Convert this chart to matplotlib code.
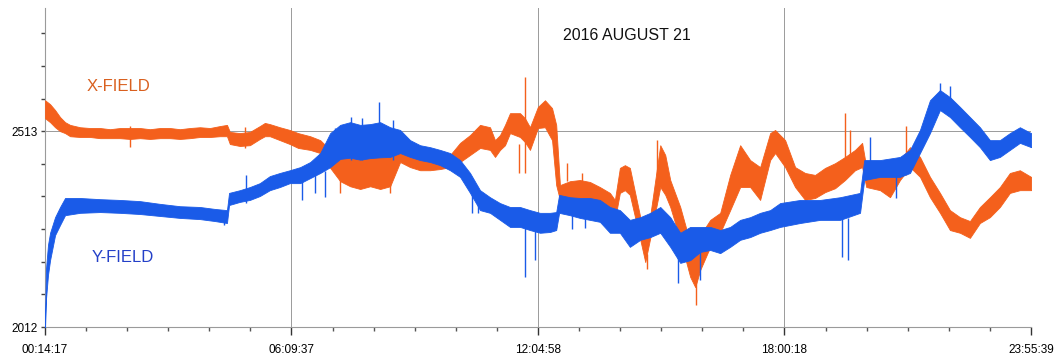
import matplotlib.pyplot as plt

# Magnetometer record, 2016 August 21 (time in hours of the day)
tick_hours = [0.2381, 6.1603, 12.0828, 18.0050, 23.9275]
tick_labels = ['00:14:17', '06:09:37', '12:04:58', '18:00:18', '23:55:39']

# X-FIELD: time, lower and upper edge of the noisy band
xf_t = [0.24, 0.36, 0.48, 0.60, 0.72, 0.84, 1.08, 1.32, 1.56, 1.80, 2.04, 2.28, 2.52, 2.76,
        3.00, 3.24, 3.48, 3.72, 3.96, 4.20, 4.44, 4.61, 4.68, 4.92, 5.16, 5.40, 5.52, 5.64,
        5.88, 6.12, 6.32, 6.61, 6.85, 7.09, 7.33, 7.57, 7.81, 8.05, 8.29, 8.53, 8.77, 9.01,
        9.25, 9.49, 9.73, 9.97, 10.21, 10.45, 10.69, 10.93, 11.05, 11.17, 11.29, 11.41, 11.65,
        11.77, 11.89, 12.08, 12.25, 12.42, 12.52, 12.61, 12.85, 13.09, 13.33, 13.57, 13.81,
        13.93, 14.05, 14.17, 14.29, 14.54, 14.66, 14.78, 15.02, 15.14, 15.26, 15.50, 15.74,
        15.86, 15.98, 16.22, 16.46, 16.70, 16.94, 17.18, 17.42, 17.66, 17.78, 18.02, 18.26,
        18.50, 18.74, 18.98, 19.22, 19.46, 19.70, 19.87, 19.97, 20.30, 20.54, 20.78, 21.02,
        21.26, 21.50, 21.74, 21.98, 22.22, 22.46, 22.70, 22.94, 23.18, 23.42, 23.66, 23.93]
xf_lo = [2546, 2536, 2523, 2513, 2508, 2500, 2498, 2498, 2495, 2495, 2495, 2493, 2495, 2493,
         2495, 2495, 2493, 2495, 2498, 2498, 2500, 2500, 2480, 2475, 2477, 2493, 2500, 2500,
         2490, 2480, 2470, 2465, 2457, 2419, 2385, 2372, 2365, 2372, 2365, 2372, 2434, 2421,
         2413, 2413, 2416, 2421, 2434, 2452, 2470, 2465, 2447, 2465, 2477, 2508, 2498,
         2485, 2465, 2521, 2523, 2490, 2375, 2337, 2339, 2342, 2337, 2319, 2304,
         2286, 2355, 2362, 2350, 2235, 2178, 2240, 2370, 2350, 2319, 2235, 2140,
         2114, 2158, 2217, 2253, 2311, 2370, 2370, 2337, 2439, 2457, 2421, 2370,
         2337, 2342, 2357, 2367, 2388, 2413, 2421, 2370, 2362, 2344, 2388, 2421,
         2396, 2344, 2304, 2260, 2253, 2240, 2278, 2293, 2319, 2355, 2362, 2362]
xf_hi = [2592, 2582, 2567, 2549, 2536, 2529, 2523, 2521, 2521, 2518, 2521, 2521, 2521, 2518,
         2521, 2521, 2518, 2521, 2523, 2521, 2526, 2529, 2511, 2508, 2511, 2526, 2534, 2531,
         2523, 2516, 2508, 2500, 2490, 2465, 2460, 2452, 2452, 2460, 2465, 2472, 2483, 2460,
         2447, 2444, 2447, 2452, 2483, 2503, 2529, 2523, 2490, 2503, 2529, 2559, 2559,
         2546, 2523, 2575, 2592, 2572, 2529, 2375, 2385, 2388, 2383, 2370, 2355,
         2337, 2419, 2426, 2419, 2293, 2253, 2298, 2477, 2452, 2388, 2319, 2227,
         2201, 2247, 2286, 2304, 2401, 2477, 2439, 2421, 2508, 2516, 2490, 2421,
         2406, 2401, 2419, 2431, 2447, 2465, 2483, 2421, 2413, 2396, 2439, 2472,
         2447, 2396, 2355, 2311, 2293, 2283, 2319, 2344, 2370, 2406, 2413, 2396]

# Y-FIELD: time, lower and upper edge of the noisy band
yf_t = [0.24, 0.26, 0.31, 0.36, 0.48, 0.60, 0.72, 1.08, 1.56, 2.04, 2.52, 3.00, 3.48, 3.96,
        4.32, 4.61, 4.66, 4.92, 5.16, 5.40, 5.64, 5.88, 6.12, 6.37, 6.61, 6.85, 7.09, 7.33,
        7.57, 7.81, 8.05, 8.29, 8.53, 8.77, 9.01, 9.25, 9.49, 9.73, 9.97, 10.21, 10.45, 10.69,
        10.93, 11.17, 11.41, 11.65, 11.89, 12.13, 12.37, 12.52, 12.59, 12.85, 13.09, 13.33,
        13.57, 13.81, 14.05, 14.29, 14.54, 14.78, 15.02, 15.26, 15.50, 15.74, 15.98, 16.22,
        16.46, 16.70, 16.94, 17.18, 17.42, 17.66, 17.90, 18.38, 18.86, 19.34, 19.82, 19.92,
        20.30, 20.78, 21.02, 21.26, 21.50, 21.74, 21.98, 22.22, 22.46, 22.70, 22.94, 23.18,
        23.42, 23.66, 23.93]
yf_lo = [2012, 2081, 2145, 2183, 2247, 2273, 2298, 2304, 2306, 2304, 2301, 2296, 2291, 2288,
         2283, 2278, 2324, 2332, 2337, 2347, 2362, 2370, 2380, 2380, 2393, 2406, 2421, 2442,
         2445, 2440, 2444, 2446, 2447, 2457, 2447, 2439, 2434, 2426, 2413, 2396, 2355, 2311,
         2304, 2286, 2268, 2268, 2260, 2253, 2255, 2260, 2304, 2298, 2291, 2286,
         2281, 2253, 2253, 2217, 2235, 2242, 2253, 2217, 2176, 2183, 2204, 2209,
         2201, 2217, 2235, 2242, 2253, 2260, 2268, 2278, 2286, 2286, 2304, 2388,
         2396, 2396, 2406, 2457, 2508, 2567, 2549, 2523, 2498, 2472, 2439, 2447,
         2465, 2483, 2472]
yf_hi = [2030, 2158, 2222, 2253, 2293, 2319, 2342, 2342, 2339, 2337, 2334, 2327, 2321, 2319,
         2314, 2311, 2355, 2362, 2370, 2380, 2398, 2406, 2413, 2421, 2434, 2457, 2508, 2529,
         2536, 2529, 2531, 2536, 2523, 2516, 2490, 2477, 2472, 2465, 2457, 2439, 2406, 2362,
         2344, 2329, 2319, 2319, 2311, 2304, 2304, 2306, 2350, 2344, 2342, 2342,
         2337, 2319, 2311, 2286, 2293, 2304, 2319, 2293, 2253, 2268, 2268, 2268,
         2260, 2268, 2286, 2293, 2304, 2311, 2329, 2337, 2337, 2344, 2355, 2439,
         2439, 2447, 2465, 2516, 2592, 2618, 2600, 2575, 2549, 2523, 2490, 2490,
         2508, 2523, 2508]

# isolated spikes: time, bottom, top
xf_spike_t = [2.28, 5.04, 7.33, 8.53, 11.63, 11.77, 12.78, 13.14, 14.70, 14.94, 15.88,
              19.46, 19.58, 20.93]
xf_spike_lo = [2472, 2470, 2355, 2355, 2406, 2406, 2385, 2385, 2160, 2400, 2068,
               2420, 2420, 2400]
xf_spike_hi = [2526, 2523, 2420, 2420, 2480, 2651, 2431, 2405, 2200, 2490, 2200,
               2559, 2516, 2526]

yf_spike_t = [4.54, 5.07, 6.41, 6.73, 6.97, 7.20, 7.60, 7.86, 8.26, 8.60, 10.50, 10.64,
              11.77, 12.01, 12.90, 13.20, 15.45, 15.98, 19.39, 19.53, 20.06, 20.69,
              21.74, 21.98]
yf_spike_lo = [2273, 2330, 2337, 2355, 2344, 2440, 2440, 2440, 2500, 2440, 2304, 2304,
               2140, 2183, 2262, 2265, 2125, 2132, 2191, 2183, 2420, 2342,
               2580, 2560]
yf_spike_hi = [2300, 2401, 2400, 2400, 2410, 2520, 2549, 2546, 2587, 2541, 2360, 2360,
               2270, 2260, 2300, 2300, 2200, 2210, 2290, 2290, 2498, 2410,
               2636, 2628]

orange = '#F4601C'
blue = '#1A5BE8'
grid_grey = '#9a9a9a'

fig = plt.figure(figsize=(10.56, 3.58), dpi=100)
ax = fig.add_axes([45 / 1056, 1 - 327 / 358, 986 / 1056, 319 / 358])

# bands drawn as filled envelopes, spikes as thin vertical lines
ax.fill_between(xf_t, xf_lo, xf_hi, color=orange, lw=0.6, zorder=3)
ax.vlines(xf_spike_t, xf_spike_lo, xf_spike_hi, color=orange, lw=1.0, zorder=3)
ax.fill_between(yf_t, yf_lo, yf_hi, color=blue, lw=0.6, zorder=4)
ax.vlines(yf_spike_t, yf_spike_lo, yf_spike_hi, color=blue, lw=1.0, zorder=4)

ax.set_xlim(tick_hours[0], tick_hours[-1])
ax.set_ylim(2012, 2828)

# grid: vertical lines at main ticks, one horizontal line at 2513
for h in tick_hours[1:]:
    ax.axvline(h, color=grid_grey, lw=0.7, zorder=1)
ax.axhline(2513, color=grid_grey, lw=0.7, zorder=1)

ax.spines['top'].set_visible(False)
ax.spines['right'].set_visible(False)
ax.spines['left'].set_color(grid_grey)
ax.spines['bottom'].set_color(grid_grey)
ax.spines['left'].set_linewidth(0.8)
ax.spines['bottom'].set_linewidth(0.8)

ax.set_xticks(tick_hours)
ax.set_xticklabels(tick_labels, fontsize=8.5, family='Liberation Sans')
minor_x = []
for i in range(4):
    step = (tick_hours[i + 1] - tick_hours[i]) / 6
    minor_x += [tick_hours[i] + step * k for k in range(1, 6)]
ax.set_xticks(minor_x, minor=True)
ax.tick_params(axis='x', which='major', length=6, width=1, color='#333333', pad=6)
ax.tick_params(axis='x', which='minor', length=3, width=1, color='#555555')

y_ticks = [2012 + 83.5 * k for k in range(10)]
ax.set_yticks(y_ticks)
ax.set_yticklabels(['2012', '', '', '', '', '', '2513', '', '', ''],
                   fontsize=8.5, family='Liberation Sans')
ax.tick_params(axis='y', length=3, width=1, color='#444444', pad=2)

ax.text(1.25, 2626, 'X-FIELD', color='#D9601F', fontsize=12,
        family='Liberation Sans', va='center')
ax.text(1.37, 2191, 'Y-FIELD', color='#2440C8', fontsize=12,
        family='Liberation Sans', va='center')
ax.text(12.68, 2758, '2016 AUGUST 21', color='#111111', fontsize=11.5,
        family='Liberation Sans', va='center')

plt.savefig('out.png', dpi=100)
